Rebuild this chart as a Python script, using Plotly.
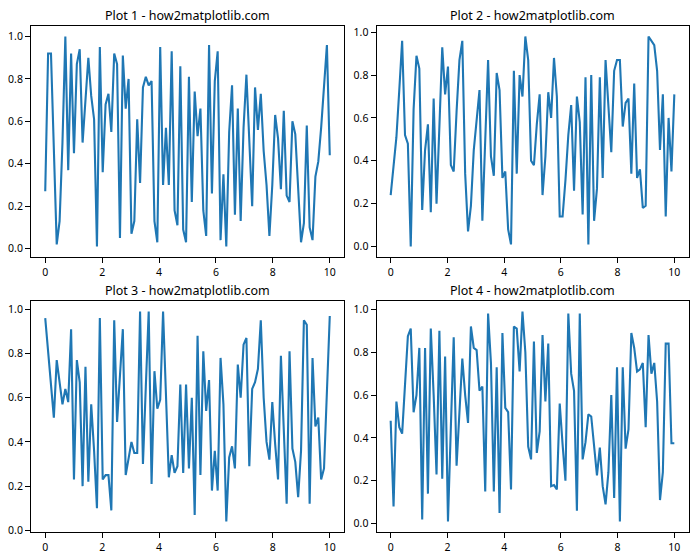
import numpy as np
import plotly.graph_objects as go

x = np.linspace(0, 10, 100)

y1 = [0.27, 0.92, 0.92, 0.47, 0.02, 0.13, 0.50, 1.00, 0.37, 0.92,
      0.45, 0.87, 0.94, 0.50, 0.70, 0.90, 0.72, 0.61, 0.01, 0.95,
      0.36, 0.68, 0.73, 0.55, 0.92, 0.87, 0.05, 0.91, 0.66, 0.80,
      0.07, 0.13, 0.61, 0.31, 0.76, 0.81, 0.77, 0.79, 0.13, 0.03,
      0.95, 0.30, 0.57, 0.30, 0.93, 0.18, 0.11, 0.86, 0.09, 0.03,
      0.81, 0.22, 0.74, 0.53, 0.66, 0.18, 0.06, 0.96, 0.26, 0.79,
      0.93, 0.04, 0.35, 0.01, 0.55, 0.77, 0.16, 0.66, 0.13, 0.57,
      0.82, 0.50, 0.20, 0.76, 0.56, 0.73, 0.46, 0.30, 0.06, 0.30,
      0.63, 0.52, 0.28, 0.65, 0.25, 0.22, 0.60, 0.54, 0.28, 0.03,
      0.12, 0.58, 0.10, 0.04, 0.34, 0.41, 0.57, 0.77, 0.96, 0.44]

y2 = [0.24, 0.37, 0.51, 0.73, 0.96, 0.52, 0.48, 0.00, 0.64, 0.89,
      0.83, 0.17, 0.45, 0.57, 0.16, 0.69, 0.20, 0.56, 0.93, 0.71,
      0.84, 0.38, 0.35, 0.63, 0.87, 0.96, 0.34, 0.07, 0.19, 0.45,
      0.59, 0.73, 0.12, 0.50, 0.87, 0.42, 0.33, 0.81, 0.73, 0.32,
      0.35, 0.08, 0.01, 0.82, 0.34, 0.80, 0.70, 0.98, 0.87, 0.40,
      0.38, 0.57, 0.71, 0.24, 0.42, 0.72, 0.60, 0.88, 0.70, 0.14,
      0.14, 0.31, 0.52, 0.66, 0.26, 0.70, 0.58, 0.15, 0.79, 0.01,
      0.80, 0.12, 0.27, 0.79, 0.32, 0.87, 0.63, 0.44, 0.82, 0.87,
      0.87, 0.56, 0.67, 0.69, 0.34, 0.76, 0.32, 0.36, 0.18, 0.19,
      0.98, 0.96, 0.94, 0.82, 0.45, 0.71, 0.14, 0.60, 0.35, 0.71]

y3 = [0.96, 0.80, 0.64, 0.51, 0.77, 0.68, 0.57, 0.64, 0.58, 0.91,
      0.23, 0.77, 0.67, 0.20, 0.74, 0.22, 0.57, 0.36, 0.10, 0.96,
      0.23, 0.25, 0.25, 0.09, 0.95, 0.49, 0.70, 0.91, 0.25, 0.32,
      0.40, 0.35, 0.35, 0.99, 0.30, 0.65, 0.99, 0.21, 0.72, 0.55,
      0.59, 0.99, 0.62, 0.24, 0.34, 0.26, 0.29, 0.66, 0.26, 0.66,
      0.28, 0.60, 0.07, 0.88, 0.25, 0.81, 0.54, 0.68, 0.18, 0.36,
      0.18, 0.78, 0.57, 0.04, 0.33, 0.38, 0.28, 0.75, 0.60, 0.84,
      0.87, 0.29, 0.64, 0.67, 0.73, 0.95, 0.60, 0.40, 0.32, 0.58,
      0.39, 0.23, 0.79, 0.46, 0.12, 0.81, 0.37, 0.31, 0.15, 0.36,
      0.95, 0.93, 0.12, 0.78, 0.47, 0.51, 0.23, 0.28, 0.62, 0.97]

y4 = [0.48, 0.08, 0.57, 0.45, 0.42, 0.65, 0.875, 0.91, 0.52, 0.60,
      0.82, 0.02, 0.82, 0.14, 0.91, 0.60, 0.23, 0.90, 0.21, 0.78,
      0.01, 0.45, 0.87, 0.27, 0.52, 0.77, 0.60, 0.47, 0.92, 0.82,
      0.81, 0.62, 0.64, 0.15, 0.98, 0.75, 0.15, 0.73, 0.05, 0.89,
      0.54, 0.52, 0.16, 0.92, 0.91, 0.71, 0.99, 0.80, 0.36, 0.30,
      0.85, 0.33, 0.43, 0.88, 0.57, 0.84, 0.175, 0.18, 0.16, 0.56,
      0.37, 0.20, 0.98, 0.70, 0.62, 0.06, 0.98, 0.30, 0.38, 0.51,
      0.50, 0.36, 0.225, 0.355, 0.175, 0.09, 0.24, 0.60, 0.12, 0.73,
      0.01, 0.73, 0.35, 0.44, 0.89, 0.82, 0.71, 0.72, 0.75, 0.45,
      0.88, 0.70, 0.75, 0.57, 0.11, 0.24, 0.84, 0.84, 0.375, 0.375]

titles = ["Plot 1 - how2matplotlib.com", "Plot 2 - how2matplotlib.com",
          "Plot 3 - how2matplotlib.com", "Plot 4 - how2matplotlib.com"]
series = [y1, y2, y3, y4]

W, H = 700, 560
# pixel boxes (left, right, top, bottom)
boxes = [(31, 344, 26, 257), (376.5, 688.5, 26, 257),
         (31, 344, 301, 532), (376.5, 688.5, 301, 532)]

FONT = "Noto Sans"
fig = go.Figure()
annotations = []
layout = {}
for k, (ys, t, (l, r, tp, bt)) in enumerate(zip(series, titles, boxes)):
    n = "" if k == 0 else str(k + 1)
    fig.add_trace(go.Scatter(x=x, y=ys, mode="lines",
                             line=dict(color="#1f77b4", width=2.1),
                             xaxis="x" + n, yaxis="y" + n, showlegend=False,
                             hoverinfo="skip"))
    ymin, ymax = min(ys), max(ys)
    dy = (ymax - ymin) * 0.05
    common = dict(showline=True, linecolor="black", linewidth=1, mirror=True,
                  ticks="outside", ticklen=5, tickcolor="black", tickwidth=1,
                  showgrid=False, zeroline=False, automargin=False,
                  tickfont=dict(family=FONT, size=10.5, color="black"))
    layout["xaxis" + n] = dict(domain=[l / W, r / W], range=[-0.5, 10.5],
                               tickvals=[0, 2, 4, 6, 8, 10],
                               anchor="y" + n, **common)
    layout["yaxis" + n] = dict(domain=[1 - bt / H, 1 - tp / H],
                               range=[ymin - dy, ymax + dy],
                               tickvals=[0, 0.2, 0.4, 0.6, 0.8, 1.0],
                               tickformat=".1f", anchor="x" + n, **common)
    annotations.append(dict(text=t, x=(l + r) / 2 / W, y=1 - tp / H,
                            xref="paper", yref="paper", xanchor="center",
                            yanchor="bottom", yshift=0, showarrow=False,
                            font=dict(family=FONT, size=12.5, color="black")))

fig.update_layout(width=W, height=H, margin=dict(l=0, r=0, t=0, b=0),
                  plot_bgcolor="white", paper_bgcolor="white",
                  hovermode=False,
                  annotations=annotations, **layout)
fig.write_html("out.html",
               config={"displayModeBar": False, "staticPlot": True},
               post_script="document.body.style.margin='0';"
                           "document.body.style.padding='0';")
